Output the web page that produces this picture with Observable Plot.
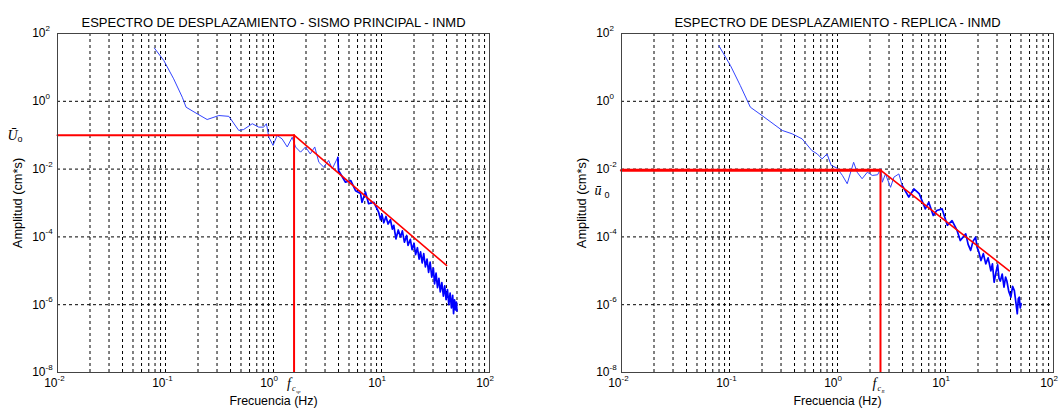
<!DOCTYPE html>
<html><head><meta charset="utf-8">
<script src="https://cdn.jsdelivr.net/npm/d3@7"></script>
<script src="https://cdn.jsdelivr.net/npm/@observablehq/plot@0.6"></script>
<style>body{margin:0;background:#fff}#wrap{display:flex;width:1062px;height:415px;background:#fff}</style>
</head><body><div id="wrap"></div>
<script>
// ---- axis ticks ----
const xMajor = [0.01, 0.1, 1, 10, 100];
const xMajorExp = ["-2", "-1", "0", "1", "2"];
const xGrid = [0.02,0.03,0.04,0.05,0.06,0.07,0.08,0.09,0.1,
               0.2,0.3,0.4,0.5,0.6,0.7,0.8,0.9,1,
               2,3,4,5,6,7,8,9,10,
               20,30,40,50,60,70,80,90];
const yMajor = [1e-8, 1e-6, 1e-4, 1e-2, 1, 100];
const yMajorExp = ["-8", "-6", "-4", "-2", "0", "2"];
const yGrid = [1e-6, 1e-4, 1e-2, 1];

// ---- titles ----
const titleMain = "ESPECTRO DE DESPLAZAMIENTO - SISMO PRINCIPAL - INMD";
const titleReplica = "ESPECTRO DE DESPLAZAMIENTO - REPLICA - INMD";
const xLabel = "Frecuencia (Hz)";
const yLabel = "Amplitud (cm*s)";

// ---- main shock spectrum (blue) ----
const mainFreq = [0.079,0.0964,0.119,0.143,0.155,0.196,0.243,0.312,0.386,0.477,0.529,0.636,0.73,0.81,0.86,0.906,0.99,1.08,1.2,1.34,1.49,1.6,1.78,1.98,2.19,2.41,2.63,2.92,3.24,3.5,3.94,4.0,4.64,5.2,5.75,6.4,6.6,7.1,7.6,8.5,
  9.4,9.8,10.1,10.5,11.0,11.5,12.1,12.6,13.0,13.6,14.3,15.0,15.6,16.3,17.1,17.6,18.5,19.2,20.0,20.7,21.5,22.3,23.0,23.8,24.6,25.5,26.4,27.3,28.2,29.2,30.2,31.0,32.0,33.0,34.0,35.0,36.2,37.4,38.5,39.6,40.8,42.0,43.2,44.4,45.6,46.5,47.5,48.5,49.4,50.0];
const mainAmp = [36.9,16,4.6,1.32,0.67,0.43,0.29,0.38,0.36,0.138,0.147,0.218,0.173,0.173,0.218,0.087,0.05,0.098,0.078,0.045,0.087,0.045,0.0316,0.045,0.028,0.045,0.0159,0.0114,0.018,0.0102,0.0224,0.0091,0.0041,0.0046,0.0023,0.0019,0.00105,0.0021,0.00095,0.00105,
  5.4e-4,3.2e-4,4.6e-4,2.6e-4,4.0e-4,2.4e-4,3.2e-4,1.7e-4,2.2e-4,8.7e-5,1.6e-4,1.0e-4,1.5e-4,7.0e-5,1.1e-4,5.6e-5,8.5e-5,4.2e-5,6.5e-5,3.0e-5,4.8e-5,2.2e-5,3.6e-5,1.7e-5,3.2e-5,1.3e-5,2.2e-5,9.0e-6,1.8e-5,6.5e-6,1.2e-5,4.1e-6,8.5e-6,3.2e-6,6.0e-6,2.4e-6,4.5e-6,1.8e-6,3.6e-6,1.4e-6,2.8e-6,1.0e-6,2.2e-6,8.0e-7,1.9e-6,5.4e-7,1.4e-6,7.0e-7,1.2e-6,6.5e-7];

// ---- replica spectrum (blue) ----
const repFreq = [0.0796,0.102,0.126,0.156,0.2,0.308,0.38,0.47,0.58,0.65,0.72,0.8,0.875,0.99,1.11,1.23,1.41,1.52,1.69,1.89,2.1,2.35,2.52,2.6,2.78,3.1,3.33,3.7,3.97,4.57,5.1,5.7,6.5,7.0,7.7,8.3,9.3,10.4,11.5,12.8,13.7,15.4,16.2,17.1,18.0,19.0,19.6,20.4,21.3,22.4,23.6,24.8,26.3,27.2,28.2,29.3,30.4,31.3,32.2,33.5,34.8,36.0,37.0,38.6,40.3,41.8,43.4,44.8,46.2,47.2,48.2,49.2,50.0];
const repAmp = [44,11.4,2.9,0.67,0.38,0.138,0.11,0.078,0.035,0.028,0.02,0.028,0.0128,0.0107,0.0065,0.0037,0.0159,0.0081,0.0052,0.0081,0.0065,0.0068,0.0102,0.0041,0.0072,0.0029,0.0058,0.0072,0.0033,0.0015,0.0026,0.0019,0.00067,0.00105,0.00043,0.0006,0.00067,0.00022,0.0003,0.000155,7.8e-5,1.23e-4,6.0e-5,4e-5,7.5e-5,9.8e-5,5.0e-5,3.5e-5,2e-5,3.2e-5,1.6e-5,2.4e-5,1.0e-5,1.6e-5,4.6e-6,9.0e-6,1.5e-5,6.0e-6,5e-6,8.0e-6,3.3e-6,6.5e-6,5e-6,2.4e-6,1.66e-6,3.5e-6,2.6e-6,1.2e-6,5.4e-7,1.5e-6,1.66e-6,8e-7,1.07e-6];

// ---- fitted model (red): [start freq, corner freq, end freq] and [plateau, end amplitude] ----
const mainModelFreq = [0.01, 1.55, 40];
const mainModelAmp = [0.1, 0.1, 1.44e-5];
const repModelFreq = [0.01, 2.5, 39];
const repModelAmp = [0.0093, 0.0093, 1.0e-5];

const FONT = "'Liberation Sans', Arial, Helvetica, sans-serif";
const SERIF = "'Liberation Serif', 'Times New Roman', serif";

function panel(o) {
  const blue = o.freq.map((f, i) => ({f, a: o.amp[i]}));
  const red = o.mFreq.map((f, i) => ({f, a: o.mAmp[i]}));
  const plateau = red.slice(0, 2);
  const slope = red.slice(1);
  const fc = o.mFreq[1], U0 = o.mAmp[1];
  return Plot.plot({
    width: 531, height: 415,
    marginTop: 33, marginBottom: 43, marginLeft: o.mL, marginRight: o.mR,
    x: {type: "log", domain: [0.01, 100], axis: null},
    y: {type: "log", domain: [1e-8, 100], axis: null},
    style: {fontFamily: FONT, background: "#fff", overflow: "visible"},
    marks: [
      Plot.ruleX(xGrid, {x: d => d, stroke: "#000", strokeWidth: 1, strokeDasharray: "3,3"}),
      Plot.ruleY(yGrid, {y: d => d, stroke: "#000", strokeWidth: 1, strokeDasharray: "3,3"}),
      Plot.line(blue, {filter: d => d.f <= 4, x: "f", y: "a", stroke: "#3344ff", strokeWidth: 1}),
      Plot.line(blue, {filter: d => d.f >= 3.9, x: "f", y: "a", stroke: "#0000ff", strokeWidth: 1.7}),
      Plot.line(plateau, {x: "f", y: "a", stroke: "#ff0000", strokeWidth: o.plateauW}),
      Plot.line(slope, {x: "f", y: "a", stroke: "#ff0000", strokeWidth: 1.6}),
      Plot.ruleX([fc], {x: d => d, y1: 1e-8, y2: U0, stroke: "#ff0000", strokeWidth: 2}),
      Plot.frame({stroke: "#444", strokeWidth: 1}),
      // x tick labels
      Plot.text(xMajor, {x: d => d, frameAnchor: "bottom", dy: 14, text: () => "10", textAnchor: "end", fontSize: 12, fill: "#000"}),
      Plot.text(xMajor, {x: d => d, frameAnchor: "bottom", dy: 8, text: (d, i) => xMajorExp[i], textAnchor: "start", fontSize: 8, fill: "#000"}),
      // y tick labels
      Plot.text(yMajor, {y: d => d, frameAnchor: "left", dx: -12, text: () => "10", textAnchor: "end", fontSize: 12, fill: "#000"}),
      Plot.text(yMajor, {y: d => d, frameAnchor: "left", dx: -12, dy: -5, text: (d, i) => yMajorExp[i], textAnchor: "start", fontSize: 8, fill: "#000"}),
      // titles & labels
      Plot.text([o.title], {frameAnchor: "top", dy: -16, text: d => d, textAnchor: "middle", fontSize: 13, fill: "#000"}),
      Plot.text([xLabel], {frameAnchor: "bottom", dy: 32, text: d => d, textAnchor: "middle", fontSize: 12.4, fill: "#000"}),
      Plot.text([1e-3], {y: d => d, frameAnchor: "left", dx: -40, rotate: -90, text: () => yLabel, textAnchor: "middle", fontSize: 12.8, fill: "#000"}),
      // amplitude annotation
      Plot.text([o.u0Y], {y: d => d, frameAnchor: "left", dx: o.u0dx, text: () => o.u0Text, textAnchor: "start", fontStyle: "italic", fontFamily: SERIF, fontSize: 14, fill: "#000"}),
      Plot.text([o.u0Y], {y: d => d, frameAnchor: "left", dx: o.u0dx + 10, dy: 4, text: () => o.u0Sub, textAnchor: "start", fontFamily: FONT, fontSize: 9, fill: "#000"}),
      // corner frequency annotation
      Plot.text([fc], {x: d => d, frameAnchor: "bottom", dx: o.fdx, dy: 15, text: () => "f", textAnchor: "start", fontStyle: "italic", fontFamily: SERIF, fontSize: 14, fill: "#000"}),
      Plot.text([fc], {x: d => d, frameAnchor: "bottom", dx: o.fdx + 5, dy: 18, text: () => "c", textAnchor: "start", fontStyle: "italic", fontFamily: SERIF, fontSize: 8, fill: "#000"}),
      Plot.text([fc], {x: d => d, frameAnchor: "bottom", dx: o.fdx + 9, dy: 20, text: () => o.fSub, textAnchor: "start", fontStyle: "italic", fontFamily: SERIF, fontSize: 5, fill: "#000"})
    ]
  });
}

const wrap = document.getElementById("wrap");
wrap.appendChild(panel({
  title: titleMain, freq: mainFreq, amp: mainAmp, mFreq: mainModelFreq, mAmp: mainModelAmp,
  mL: 57, mR: 42, plateauW: 2, u0Y: 0.1, u0dx: -50, u0Text: "Ū", u0Sub: "o",
  fdx: -7, fSub: "sp"
}));
wrap.appendChild(panel({
  title: titleReplica, freq: repFreq, amp: repAmp, mFreq: repModelFreq, mAmp: repModelAmp,
  mL: 90, mR: 9, plateauW: 3, u0Y: 0.0023, u0dx: -27, u0Text: "ū", u0Sub: "0",
  fdx: -8, fSub: "R"
}));
</script>
</body></html>
